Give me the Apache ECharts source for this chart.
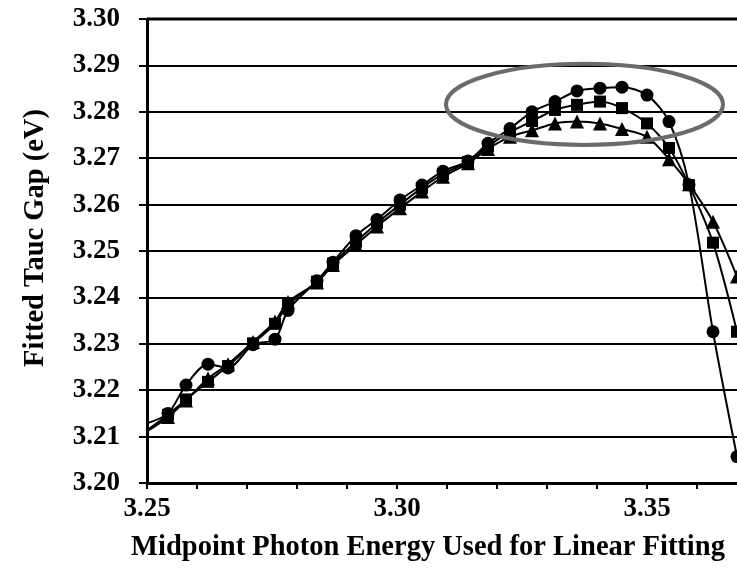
<!DOCTYPE html>
<html>
<head>
<meta charset="utf-8">
<script src="https://cdn.jsdelivr.net/npm/echarts@6/dist/echarts.min.js"></script>
<style>
html,body{margin:0;padding:0;background:#fff;}
#chart{width:737px;height:571px;}
</style>
</head>
<body>
<div id="chart"></div>
<script>
// Midpoint photon energy (eV)
const xValues = [3.2498, 3.2542, 3.2578, 3.2622, 3.2662, 3.2712, 3.2756, 3.2782, 3.2840, 3.2872,
  3.2918, 3.2960, 3.3006, 3.3050, 3.3092, 3.3142, 3.3182, 3.3226, 3.3270, 3.3316,
  3.3360, 3.3406, 3.3450, 3.3500, 3.3544, 3.3584, 3.3632, 3.3680];
// Fitted Tauc gap (eV)
const circleSeries = [3.2128, 3.2150, 3.2211, 3.2256, 3.2248, 3.2298, 3.2310, 3.2372, 3.2436, 3.2476,
  3.2533, 3.2568, 3.2610, 3.2642, 3.2672, 3.2694, 3.2732, 3.2764, 3.2800, 3.2822,
  3.2845, 3.2851, 3.2853, 3.2836, 3.2779, 3.2643, 3.2326, 3.2057];
const squareSeries = [3.2112, 3.2147, 3.2180, 3.2218, 3.2252, 3.2301, 3.2343, 3.2384, 3.2434, 3.2473,
  3.2520, 3.2560, 3.2600, 3.2636, 3.2666, 3.2692, 3.2726, 3.2756, 3.2780, 3.2804,
  3.2815, 3.2822, 3.2808, 3.2775, 3.2722, 3.2642, 3.2518, 3.2326];
const triangleSeries = [3.2110, 3.2142, 3.2178, 3.2225, 3.2256, 3.2304, 3.2348, 3.2390, 3.2432, 3.2470,
  3.2513, 3.2553, 3.2592, 3.2628, 3.2660, 3.2689, 3.2720, 3.2746, 3.2760, 3.2775,
  3.2779, 3.2775, 3.2763, 3.2746, 3.2698, 3.2644, 3.2563, 3.2445];
// Highlight ellipse (data coordinates): center x, center y, half-width, half-height
const highlight = {cx: 3.3375, cy: 3.2816, rx: 0.0277, ry: 0.00873};
const xAxisTitle = 'Midpoint Photon Energy Used for Linear Fitting';
const yAxisTitle = 'Fitted Tauc Gap (eV)';

const FONT = '"Liberation Serif", "Times New Roman", serif';
const chart = echarts.init(document.getElementById('chart'), null, {renderer: 'canvas'});

function pairs(ys) { return xValues.map((x, i) => [x, ys[i]]); }
function mkSeries(name, ys, symbol, size) {
  return {
    name: name, type: 'line', data: pairs(ys), smooth: 0.3,
    symbol: symbol, symbolSize: size, showAllSymbol: true,
    lineStyle: {color: '#000', width: 2},
    itemStyle: {color: '#000', borderWidth: 0},
    emphasis: {disabled: true}, animation: false, clip: true
  };
}

chart.setOption({
  animation: false,
  backgroundColor: '#fff',
  grid: {left: 147, top: 19, right: 0, bottom: 88, containLabel: false},
  xAxis: {
    type: 'value', min: 3.25, max: 3.368, interval: 0.01,
    axisLine: {show: true, onZero: false, lineStyle: {color: '#000', width: 3}},
    axisTick: {show: true, inside: false, length: 6, lineStyle: {color: '#000', width: 2}},
    axisLabel: {
      margin: 13, color: '#000', fontFamily: FONT, fontWeight: 'bold', fontSize: 27,
      showMaxLabel: false,
      formatter: function (v) {
        const k = Math.round(v * 100);
        return (k % 5 === 0) ? (k / 100).toFixed(2) : '';
      }
    },
    splitLine: {show: false}
  },
  yAxis: {
    type: 'value', min: 3.20, max: 3.30, interval: 0.01,
    axisLine: {show: true, onZero: false, lineStyle: {color: '#000', width: 3}},
    axisTick: {show: true, inside: false, length: 8, lineStyle: {color: '#000', width: 2}},
    axisLabel: {
      margin: 27, color: '#000', fontFamily: FONT, fontWeight: 'bold', fontSize: 27,
      formatter: function (v) { return v.toFixed(2); }
    },
    splitLine: {show: true, lineStyle: {color: '#000', width: 2}}
  },
  series: [
    mkSeries('circle', circleSeries, 'circle', 13),
    mkSeries('square', squareSeries, 'rect', 12),
    mkSeries('triangle', triangleSeries, 'triangle', 14)
  ]
});

const cPix = chart.convertToPixel({gridIndex: 0}, [highlight.cx, highlight.cy]);
const ePix = chart.convertToPixel({gridIndex: 0}, [highlight.cx + highlight.rx, highlight.cy + highlight.ry]);
const topPix = chart.convertToPixel({gridIndex: 0}, [3.25, 3.30]);
chart.setOption({
  graphic: [
    {
      type: 'ellipse', z: 100,
      shape: {cx: cPix[0], cy: cPix[1], rx: Math.abs(ePix[0] - cPix[0]), ry: Math.abs(ePix[1] - cPix[1])},
      style: {fill: 'none', stroke: '#6b6b6b', lineWidth: 4}
    },
    {
      type: 'line', z: 50,
      shape: {x1: topPix[0], y1: topPix[1], x2: 737, y2: topPix[1]},
      style: {stroke: '#000', lineWidth: 3}
    },
    {
      type: 'text', x: 428, y: 548,
      style: {text: xAxisTitle, fill: '#000', font: 'bold 28.5px ' + FONT, align: 'center', verticalAlign: 'middle'}
    },
    {
      type: 'text', x: 36, y: 238, rotation: Math.PI / 2,
      style: {text: yAxisTitle, fill: '#000', font: 'bold 28.5px ' + FONT, align: 'center', verticalAlign: 'middle'}
    }
  ]
});
</script>
</body>
</html>
